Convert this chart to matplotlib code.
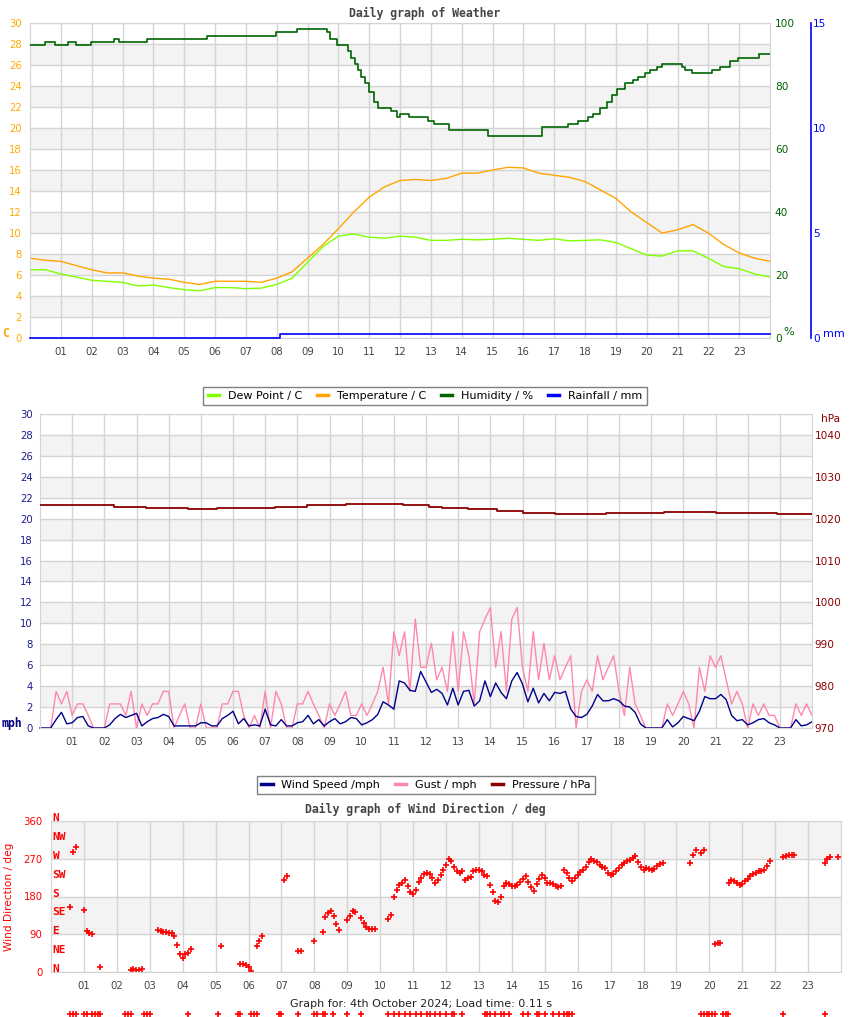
import numpy as np
import matplotlib
matplotlib.use("Agg")
import matplotlib.pyplot as plt
from matplotlib.lines import Line2D

n = np.nan

# ---------------- weather panel data ----------------
half_hours = np.arange(49) / 2
temperature_c = [7.6, 7.4, 7.3, 6.9, 6.5, 6.2, 6.2, 5.9, 5.7, 5.6,
                 5.3, 5.1, 5.4, 5.4, 5.4, 5.3, 5.7, 6.3, 7.6, 8.9,
                 10.4, 12.0, 13.4, 14.4, 15.0, 15.1, 15.0, 15.2, 15.7, 15.7,
                 16.0, 16.25, 16.2, 15.7, 15.5, 15.3, 14.9, 14.1, 13.3, 12.0,
                 11.0, 10.0, 10.3, 10.8, 10.0, 8.9, 8.1, 7.6, 7.3]
dew_point_c = [6.5, 6.5, 6.1, 5.8, 5.5, 5.4, 5.3, 4.95, 5.05, 4.8,
               4.6, 4.5, 4.8, 4.8, 4.7, 4.75, 5.1, 5.7, 7.2, 8.7,
               9.7, 9.9, 9.6, 9.5, 9.7, 9.6, 9.3, 9.3, 9.4, 9.35,
               9.4, 9.5, 9.4, 9.3, 9.45, 9.25, 9.3, 9.35, 9.1, 8.5,
               7.9, 7.8, 8.3, 8.3, 7.6, 6.8, 6.6, 6.1, 5.8]
hum_times = [0, 0.49, 0.81, 1.24, 1.49, 1.97, 2.72, 2.9, 3.81, 5.75,
             7.98, 8.65, 9.62, 9.73, 9.95, 10.3, 10.4, 10.55, 10.65, 10.75,
             10.85, 11.0, 11.15, 11.3, 11.7, 11.9, 12.0, 12.3, 12.9, 13.1,
             13.6, 14.87, 16.6, 17.46, 17.78, 18.1, 18.27, 18.49, 18.7, 18.86,
             19.03, 19.3, 19.57, 19.73, 19.95, 20.11, 20.33, 20.51, 21.14, 21.24,
             21.46, 22.13, 22.38, 22.7, 22.97, 23.65, 24.0]
humidity_pct = [93, 94, 93, 94, 93, 94, 95, 94, 95, 96,
                97, 98, 97, 95, 93, 91, 89, 87, 85, 83,
                81, 78, 75, 73, 72, 70, 71, 70, 69, 68,
                66, 64, 67, 68, 69, 70, 71, 73, 75, 77,
                79, 81, 82, 83, 84, 85, 86, 87, 86, 85,
                84, 85, 86, 88, 89, 90, 90]
rain_times = [0, 8.1, 24]
rain_mm = [0, 0.2, 0.2]

# ---------------- wind panel data (10 minute samples) ----------------
ten_min = np.arange(145) / 6
wind_mph = [0, 0, 0, 0.8, 1.5, 0.4,
            0.5, 1.0, 1.1, 0.2, 0, 0,
            0, 0.3, 0.9, 1.3, 1.0, 1.2,
            1.4, 0.2, 0.6, 0.9, 1.0, 1.3,
            1.1, 0.2, 0.2, 0.2, 0.2, 0.2,
            0.5, 0.5, 0.2, 0.2, 0.9, 1.2,
            1.6, 0.4, 0.9, 0.2, 0.3, 0.2,
            1.8, 0.3, 0.2, 0.8, 0.2, 0.2,
            0.5, 0.6, 1.2, 0.4, 0.8, 0.2,
            0.6, 0.9, 0.4, 0.6, 1.0, 0.9,
            0.3, 0.5, 0.8, 1.3, 2.5, 2.2,
            1.8, 4.5, 4.3, 3.6, 3.5, 5.4,
            4.4, 3.4, 3.7, 3.3, 2.2, 3.8,
            2.2, 3.5, 3.6, 2.1, 2.6, 4.5,
            3.0, 4.3, 3.4, 2.8, 4.5, 5.3,
            4.2, 2.5, 3.8, 2.4, 3.3, 2.6,
            3.4, 3.3, 3.5, 1.8, 1.1, 1.0,
            1.3, 2.1, 3.2, 2.6, 2.6, 2.8,
            2.6, 2.1, 2.0, 1.5, 0.4, 0,
            0, 0, 0, 0.8, 0.1, 0.5,
            1.1, 0.9, 0.7, 1.6, 3.0, 2.8,
            2.8, 3.2, 2.7, 1.2, 0.7, 0.8,
            0.3, 0.5, 0.8, 0.9, 0.5, 0.3,
            0, 0, 0, 0.8, 0.2, 0.3,
            0.6]
gust_mph = [0, 0, 0, 3.5, 2.3, 3.5,
            1.2, 2.3, 2.3, 1.2, 0, 0,
            0, 2.3, 2.3, 2.3, 1.2, 3.5,
            0, 2.3, 1.2, 2.3, 2.3, 3.5,
            3.5, 0, 1.2, 2.3, 0, 0,
            2.3, 0, 0, 0, 2.3, 2.3,
            3.5, 3.5, 1.2, 0, 1.2, 0,
            3.5, 0, 3.5, 2.3, 0, 0,
            2.3, 2.3, 3.5, 2.3, 1.2, 0,
            2.3, 1.2, 2.3, 3.5, 1.2, 1.2,
            2.3, 1.2, 2.3, 3.5, 5.8, 2.3,
            9.2, 6.9, 9.2, 3.5, 10.4, 5.8,
            5.8, 8.1, 4.6, 5.8, 3.5, 9.2,
            3.5, 9.2, 6.9, 2.3, 9.2, 10.4,
            11.5, 5.8, 9.2, 3.5, 10.4, 11.5,
            5.8, 3.5, 9.2, 4.6, 8.1, 4.6,
            6.9, 4.6, 5.8, 6.9, 0, 3.5,
            4.6, 3.5, 6.9, 4.6, 5.8, 6.9,
            3.5, 1.2, 5.8, 2.3, 1.2, 0,
            0, 0, 0, 2.3, 1.2, 2.3,
            3.5, 2.3, 0, 5.8, 3.5, 6.9,
            5.8, 6.9, 4.6, 2.3, 3.5, 2.3,
            0, 2.3, 1.2, 2.3, 1.2, 1.2,
            0, 0, 0, 2.3, 1.2, 2.3,
            1.2]
press_times = [0, 2.3, 3.3, 4.6, 5.5, 7.3, 8.3, 8.9, 9.5, 11.3, 12.1,
               12.5, 13.3, 14.2, 15.0, 16.0, 17.6, 19.4, 21.0, 22.9, 23.5, 24.0]
pressure_hpa = [1023.3, 1022.9, 1022.6, 1022.4, 1022.6, 1022.9, 1023.2, 1023.3,
                1023.6, 1023.3, 1022.9, 1022.6, 1022.2, 1021.8, 1021.4, 1021.2,
                1021.4, 1021.7, 1021.4, 1021.2, 1021.0, 1021.0]

# ---------------- wind direction data (5 minute samples) ----------------
five_min = np.arange(289) / 12
direction_deg = [
    n, n, n, n, n, n, n, 155, 285, 299, n, n,                      # 00
    147, 98, 94, 90, n, n, 12, n, n, n, n, n,                       # 01
    n, n, n, n, n, 5, 6, 5, 5, 6, n, n,                             # 02
    n, n, n, 100, 97, 96, 95, 94, 93, 85, 65, 42,                   # 03
    33, 43, 45, 55, n, n, n, n, n, n, n, n,                         # 04
    n, n, 62, n, n, n, n, n, n, 20, 20, 17,                         # 05
    12, 3, n, 62, 75, 86, n, n, n, n, n, n,                         # 06
    n, 220, 228, n, n, n, 51, 51, n, n, n, n,                       # 07
    74, n, n, 95, 132, 140, 146, 133, 115, 100, n, n,               # 08
    124, 133, 146, 144, n, 128, 118, 108, 102, 102, 102, n,         # 09
    n, n, n, 127, 137, 180, 195, 207, 213, 219, 205, 190,           # 10
    186, 195, 215, 225, 233, 235, 233, 225, 213, 220, 231, 243,     # 11
    255, 270, 265, 251, 240, 235, 240, 219, 224, 227, 240, 242,     # 12
    244, 240, 232, 229, 207, 190, 170, 168, 180, 205, 211, 209,     # 13
    206, 205, 208, 214, 222, 229, 215, 203, 194, 210, 222, 232,     # 14
    225, 212, 212, 210, 206, 203, 205, 244, 235, 225, 217, 225,     # 15
    232, 238, 242, 250, 262, 270, 265, 262, 255, 250, 247, 235,     # 16
    232, 233, 240, 248, 255, 260, 265, 267, 272, 276, 262, 250,     # 17
    244, 247, 246, 244, 245, 253, 258, 260, n, n, n, n,             # 18
    n, n, n, n, n, 260, 278, 292, n, 283, 290, n,                   # 19
    n, n, 66, 68, 70, n, n, 213, 219, 218, 213, 207,                # 20
    210, 217, 222, 228, 233, 237, 240, 241, 244, 252, 264, n,       # 21
    n, n, n, 273, 276, 278, 278, 278, n, n, n, n,                   # 22
    n, n, n, n, n, n, 259, 270, 273, n, n, 274,                     # 23
    n]
calm_hours = [0.58, 0.67, 0.75, 1.0, 1.08, 1.25, 1.33, 1.42, 1.5, 2.25, 2.33,
              2.42, 2.83, 2.92, 3.0, 4.17, 5.08, 5.67, 5.75, 6.08, 6.17, 6.25,
              6.92, 7.0, 7.5, 8.0, 8.08, 8.25, 8.33, 8.58, 9.0, 9.42, 10.25,
              10.42, 10.58, 10.75, 10.92, 11.08, 11.25, 11.42, 11.5, 11.67,
              11.83, 12.0, 12.17, 12.25, 12.5, 13.17, 13.25, 13.33, 13.5,
              13.67, 13.75, 13.92, 14.33, 14.5, 14.75, 14.83, 15.0, 15.25,
              15.42, 15.58, 15.67, 15.75, 15.83, 19.75, 19.83, 19.92, 20.0,
              20.08, 20.17, 20.42, 20.5, 20.58, 22.25, 23.5]

hour_labels = [f"{h:02d}" for h in range(1, 24)]
compass = ["N", "NE", "E", "SE", "S", "SW", "W", "NW", "N"]

W, H = 850, 1017
fig = plt.figure(figsize=(W / 100, H / 100), dpi=100)
MONO = "DejaVu Sans Mono"
GRID = "#d4d4d4"


def add_panel(left, top, right, bottom):
    return fig.add_axes([left / W, 1 - bottom / H, (right - left) / W, (bottom - top) / H])


def base_style(ax, ymax, yticks, bands, label_color, pad):
    ax.set_xlim(0, 24)
    ax.set_ylim(0, ymax)
    for lo, hi in bands:
        ax.axhspan(lo, hi, color="#f3f3f3", lw=0, zorder=0)
    ax.set_xticks(range(1, 24))
    ax.set_xticklabels(hour_labels)
    ax.set_yticks(yticks)
    ax.set_axisbelow(True)
    ax.grid(True, color=GRID, lw=1.0)
    ax.tick_params(length=0)
    ax.tick_params(axis="x", labelsize=7.3, labelcolor="#444444", pad=6.5)
    ax.tick_params(axis="y", labelsize=7.3, labelcolor=label_color, pad=pad)
    for s in ax.spines.values():
        s.set_color(GRID)


def hide_spines(ax, keep=()):
    for name, s in ax.spines.items():
        s.set_visible(name in keep)


# ---------------- panel 1: weather ----------------
ax1 = add_panel(30, 23, 770, 338)
base_style(ax1, 30, range(0, 31, 2), [(y, y + 2) for y in range(2, 28, 4)], "#ffaa00", 6)
ax1.plot(half_hours, dew_point_c, color="#80ff00", lw=1.0)
ax1.plot(half_hours, temperature_c, color="#ffa500", lw=1.0)

axh = ax1.twinx()
axh.set_ylim(0, 100)
axh.set_yticks(range(0, 101, 20))
axh.tick_params(length=0, labelsize=7.6, labelcolor="#006400", pad=3.5)
hide_spines(axh)
axh.step(hum_times, humidity_pct, where="post", color="#006400", lw=1.2)

axr = ax1.twinx()
axr.spines["right"].set_position(("axes", (811 - 30) / 740))
hide_spines(axr, keep=("right",))
axr.spines["right"].set_color("#0000ff")
axr.spines["right"].set_linewidth(1.2)
axr.set_ylim(0, 15)
axr.set_yticks([0, 5, 10, 15])
axr.tick_params(length=0, labelsize=7.6, labelcolor="#0000ff", pad=1.5)
axr.step(rain_times, rain_mm, where="post", color="#0000ff", lw=1.2, clip_on=False)

fig.text(6 / W, 1 - 333 / H, "C", color="#ffa500", family=MONO, weight="bold",
         size=8.3, ha="center", va="center")
fig.text(789 / W, 1 - 332 / H, "%", color="#006400", size=8, ha="center", va="center")
fig.text(823 / W, 1 - 334 / H, "mm", color="#0000ff", size=8, ha="left", va="center")
fig.text(425 / W, 1 - 13 / H, "Daily graph of Weather", color="#444444", family=MONO,
         weight="bold", size=8.3, ha="center", va="center")

# ---------------- panel 2: wind speed ----------------
ax2 = add_panel(40, 414, 812, 728)
base_style(ax2, 30, range(0, 31, 2), [(y, y + 2) for y in range(2, 28, 4)], "#1c1c8c", 5)
ax2.plot(ten_min, gust_mph, color="#ff88aa", lw=1.0, clip_on=False)
ax2.plot(ten_min, wind_mph, color="#00008b", lw=1.0, clip_on=False)

axp = ax2.twinx()
axp.set_ylim(970, 1045)
axp.set_yticks(range(970, 1041, 10))
axp.tick_params(length=0, labelsize=7.6, labelcolor="#8b0000", pad=2)
hide_spines(axp)
axp.step(press_times, pressure_hpa, where="post", color="#8b0000", lw=1.3)

fig.text(1 / W, 1 - 723 / H, "mph", color="#000080", family=MONO, weight="bold",
         size=8.3, ha="left", va="center")
fig.text(821 / W, 1 - 419 / H, "hPa", color="#8b0000", size=7.6, ha="left", va="center")

# ---------------- panel 3: wind direction ----------------
ax3 = add_panel(51, 821, 841, 972)
base_style(ax3, 360, [0, 90, 180, 270, 360], [(90, 180), (270, 360)], "#ff0000", 6)
ax3.plot(five_min, direction_deg, "+", color="#ff0000", ms=4, mew=1.2)
ax3.plot(calm_hours, np.full(len(calm_hours), -100.0), "+", color="#ff0000",
         ms=4, mew=1.2, clip_on=False)
ax3.set_ylabel("Wind Direction / deg", color="#ff0000", fontsize=7.6)
ax3.yaxis.set_label_coords((14 - 51) / 790, 0.5)
for i, name in enumerate(compass):
    ax3.text(0.002, i * 45 + 7, name, transform=ax3.get_yaxis_transform(),
             color="#ff0000", family=MONO, weight="bold", size=8, ha="left", va="center")

fig.text(425 / W, 1 - 809 / H, "Daily graph of Wind Direction / deg", color="#444444",
         family=MONO, weight="bold", size=8.3, ha="center", va="center")
fig.text(421 / W, 1 - 1004 / H, "Graph for: 4th October 2024; Load time: 0.11 s",
         color="#222222", size=8, ha="center", va="center")

# ---------------- legends ----------------
leg_kw = dict(loc="center", ncol=4, fontsize=8, frameon=True, fancybox=False,
              edgecolor="#808080", framealpha=1, handlelength=1.0, handletextpad=0.8,
              columnspacing=1.35, borderpad=0.4)
h1 = [Line2D([], [], color=c, lw=2.5) for c in ("#80ff00", "#ffa500", "#006400", "#0000ff")]
leg1 = fig.legend(h1, ["Dew Point / C", "Temperature / C", "Humidity / %", "Rainfall / mm"],
                  bbox_to_anchor=(425 / W, 1 - 396 / H), **leg_kw)
h2 = [Line2D([], [], color=c, lw=2.5) for c in ("#00008b", "#ff88aa", "#8b0000")]
leg2 = fig.legend(h2, ["Wind Speed /mph", "Gust / mph", "Pressure / hPa"],
                  bbox_to_anchor=(426 / W, 1 - 785 / H), **leg_kw)
for leg in (leg1, leg2):
    leg.get_frame().set_linewidth(1.0)

fig.savefig("out.png", dpi=100)
